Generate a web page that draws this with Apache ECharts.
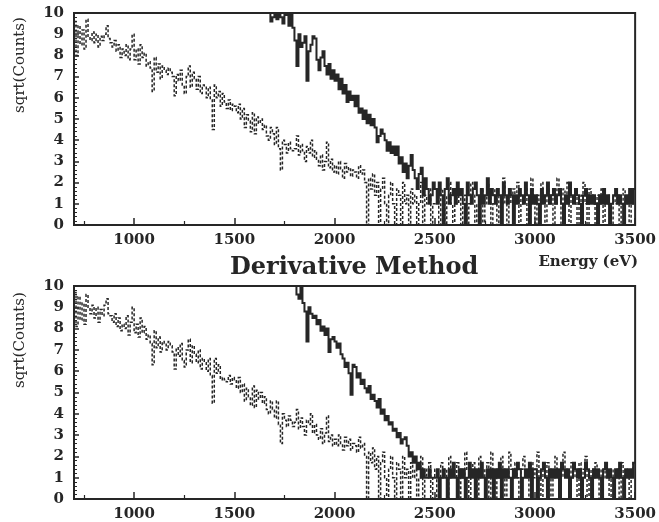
<!DOCTYPE html>
<html>
<head>
<meta charset="utf-8">
<script src="https://cdn.jsdelivr.net/npm/echarts@6/dist/echarts.min.js"></script>
<style>html,body{margin:0;padding:0;background:#fff;}#chart{width:659px;height:522px;}</style>
</head>
<body>
<div id="chart"></div>
<script>
// Energy bins: 10 eV wide, starting at 700 eV
const BIN_START = 700;
const BIN_WIDTH = 10;
const X_MIN = 700, X_MAX = 3500;
const xMajorTicks = [1000, 1500, 2000, 2500, 3000, 3500];
const xMinorTicks = [750, 1250, 1750, 2250, 2750, 3250];
const titleText = 'Derivative Method';
const xName = 'Energy (eV)';
const yName = 'sqrt(Counts)';

// top panel, dashed histogram
const topDashed = [
  9.6, 8.0, 9.4, 8.5, 9.2, 8.3, 9.7, 8.9, 8.7, 9.1,
  8.6, 9.0, 8.4, 8.9, 8.7, 9.0, 9.4, 8.8, 8.6, 8.4,
  8.7, 8.2, 8.5, 7.9, 8.3, 8.0, 8.5, 7.8, 8.3, 9.0,
  7.8, 8.3, 7.6, 8.5, 7.9, 8.1, 7.5, 7.7, 7.4, 6.3,
  7.9, 7.2, 7.6, 6.9, 7.5, 7.3, 7.1, 7.4, 7.2, 7.0,
  6.1, 7.1, 6.8, 7.3, 6.6, 6.2, 7.0, 7.5, 6.5, 7.2,
  6.9, 6.4, 7.0, 6.2, 6.6, 6.5, 6.0, 6.5, 5.9, 4.5,
  6.6, 6.0, 6.3, 5.6, 6.2, 5.8, 5.5, 5.9, 5.4, 5.7,
  5.6, 5.3, 5.7, 5.0, 5.5, 4.6, 5.2, 4.9, 4.4, 5.3,
  4.3, 5.1, 4.8, 5.0, 4.5, 4.7, 4.2, 4.0, 4.6, 4.3,
  3.8, 4.6, 3.6, 2.6, 4.0, 3.8, 3.4, 3.9, 3.6, 3.5,
  3.6, 4.2, 3.3, 3.8, 3.5, 3.0, 3.7, 3.4, 4.0, 3.2,
  3.5, 3.1, 2.8, 3.3, 2.6, 3.0, 3.9, 2.7, 3.1, 2.5,
  2.8, 2.4, 3.0, 2.6, 2.2, 2.9, 2.5, 2.7, 2.3, 2.6,
  2.5, 2.2, 2.8, 2.4, 2.6, 2.0, 0, 2.2, 1.7, 2.4,
  1.4, 2.0, 0, 1.7, 2.2, 1.0, 0, 1.4, 2.0, 1.0,
  0, 1.7, 1.4, 0, 2.0, 1.0, 1.4, 0, 1.7, 1.0,
  1.4, 0, 1.0, 2.0, 0, 1.4, 1.0, 1.7, 0, 1.0,
  1.0, 1.4, 0, 1.7, 1.0, 0, 1.4, 2.0, 1.0, 0,
  1.4, 1.0, 1.7, 0, 1.0, 1.4, 0, 1.0, 2.0, 1.4,
  0, 1.0, 1.4, 1.7, 0, 1.0, 2.0, 1.4, 0, 1.0,
  1.7, 0, 1.4, 1.0, 2.2, 1.0, 0, 1.4, 1.0, 1.7,
  1.0, 2.0, 0, 1.4, 1.0, 1.7, 0, 1.0, 2.2, 1.4,
  0, 1.4, 1.0, 2.0, 1.4, 0, 1.7, 1.0, 1.4, 0,
  1.0, 2.2, 1.4, 0, 1.7, 1.0, 2.0, 0, 1.4, 1.0,
  1.7, 0, 1.0, 1.4, 2.0, 1.0, 0, 1.7, 1.4, 1.0,
  0, 1.4, 1.0, 1.7, 0, 1.0, 1.4, 1.0, 0, 1.4,
  1.0, 1.4, 0, 1.0, 1.7, 1.0, 1.4, 0, 1.0, 1.7
];

// top panel, solid histogram (null = above the plotted range)
const topSolid = [
  null, null, null, null, null, null, null, null, null, null,
  null, null, null, null, null, null, null, null, null, null,
  null, null, null, null, null, null, null, null, null, null,
  null, null, null, null, null, null, null, null, null, null,
  null, null, null, null, null, null, null, null, null, null,
  null, null, null, null, null, null, null, null, null, null,
  null, null, null, null, null, null, null, null, null, null,
  null, null, null, null, null, null, null, null, null, null,
  null, null, null, null, null, null, null, null, null, null,
  null, null, null, null, null, null, null, 12, 9.6, 9.8,
  10.0, 9.7, 10.0, 9.8, 9.5, 10.0, 9.9, 9.4, 10.0, 9.3,
  8.7, 7.5, 9.0, 8.4, 8.6, 8.9, 6.8, 8.2, 8.5, 8.9,
  8.8, 7.8, 7.3, 7.9, 8.2, 7.5, 7.1, 7.6, 6.9, 7.3,
  6.8, 7.1, 6.4, 6.9, 6.2, 6.6, 5.8, 6.3, 5.9, 6.1,
  5.6, 6.1, 5.3, 5.5, 5.0, 5.4, 4.8, 5.2, 4.7, 5.0,
  4.6, 3.9, 4.2, 4.5, 4.3, 4.0, 3.5, 3.9, 3.4, 3.7,
  3.3, 3.7, 2.9, 3.2, 2.5, 2.9, 2.2, 2.8, 3.3, 2.6,
  2.2, 1.7, 2.4, 2.7, 1.4, 2.2, 1.7, 1.0, 1.4, 2.0,
  1.7, 1.0, 2.0, 1.4, 0, 1.7, 2.2, 1.0, 1.4, 1.7,
  1.0, 2.0, 1.4, 1.7, 1.0, 0, 2.0, 1.4, 1.0, 1.7,
  2.0, 1.4, 0, 1.7, 1.0, 1.4, 2.2, 1.0, 1.7, 1.4,
  1.0, 1.7, 1.4, 0, 2.0, 1.4, 1.0, 1.7, 1.4, 0,
  1.4, 1.0, 1.7, 1.4, 1.0, 2.0, 1.4, 0, 1.7, 1.0,
  1.4, 1.0, 0, 1.7, 1.0, 1.4, 2.0, 1.0, 1.4, 1.7,
  1.0, 1.4, 1.7, 1.0, 0, 1.4, 1.0, 2.0, 1.4, 1.0,
  1.7, 1.4, 1.0, 0, 1.4, 1.7, 1.0, 1.4, 1.0, 1.4,
  1.0, 0, 1.4, 1.0, 1.7, 1.0, 1.4, 0, 1.0, 1.4,
  1.7, 1.0, 1.4, 1.0, 0, 1.4, 1.0, 1.7, 1.0, 1.7
];

// bottom panel, dashed histogram
const bottomDashed = [
  9.7, 8.1, 9.5, 8.4, 9.2, 8.2, 9.6, 9.0, 8.7, 9.1,
  8.5, 9.0, 8.3, 8.9, 8.6, 9.1, 9.4, 8.7, 8.6, 8.3,
  8.7, 8.1, 8.5, 7.9, 8.2, 8.0, 8.6, 7.7, 8.3, 9.0,
  7.8, 8.2, 7.6, 8.5, 7.8, 8.1, 7.5, 7.7, 7.3, 6.3,
  7.9, 7.1, 7.6, 6.9, 7.4, 7.3, 7.0, 7.4, 7.2, 6.9,
  6.1, 7.1, 6.7, 7.3, 6.5, 6.2, 7.0, 7.5, 6.4, 7.2,
  6.8, 6.4, 7.0, 6.1, 6.6, 6.4, 6.0, 6.6, 5.8, 4.5,
  6.6, 5.9, 6.3, 5.6, 5.7, 5.6, 5.5, 5.8, 5.4, 5.7,
  5.6, 5.2, 5.7, 5.0, 5.4, 4.6, 5.2, 4.8, 4.4, 5.3,
  4.3, 5.1, 4.7, 5.0, 4.5, 4.8, 4.2, 4.0, 4.6, 4.2,
  3.8, 4.6, 3.5, 2.6, 4.0, 3.7, 3.4, 3.9, 3.7, 3.4,
  3.6, 4.2, 3.3, 3.8, 3.4, 3.0, 3.7, 3.5, 4.0, 3.1,
  3.5, 3.0, 2.8, 3.3, 2.6, 3.1, 3.9, 2.7, 3.0, 2.5,
  2.8, 2.5, 3.0, 2.6, 2.3, 2.9, 2.5, 2.8, 2.3, 2.6,
  2.5, 2.2, 2.9, 2.4, 2.6, 2.0, 0, 2.2, 1.7, 2.4,
  1.4, 2.0, 0, 1.7, 2.2, 1.0, 0, 1.4, 2.0, 1.0,
  0, 1.7, 1.4, 0, 2.0, 1.0, 1.4, 0, 1.7, 1.0,
  1.4, 0, 1.0, 2.0, 0, 1.4, 1.0, 1.7, 0, 1.0,
  1.4, 0, 1.0, 1.7, 1.0, 1.4, 0, 2.0, 1.0, 1.4,
  1.0, 1.7, 0, 1.4, 1.0, 2.2, 1.4, 0, 1.0, 1.7,
  1.4, 0, 2.0, 1.0, 1.4, 1.0, 1.7, 0, 2.2, 1.0,
  0, 1.4, 1.0, 2.0, 1.4, 0, 1.0, 2.2, 1.4, 1.0,
  1.7, 1.0, 0, 1.4, 2.0, 1.0, 1.4, 0, 1.7, 1.0,
  1.4, 2.2, 1.0, 0, 1.4, 1.0, 1.7, 1.4, 0, 1.0,
  2.0, 1.4, 0, 1.0, 2.2, 1.4, 1.0, 0, 1.7, 1.0,
  1.4, 0, 1.7, 1.0, 1.4, 2.0, 0, 1.0, 1.4, 1.0,
  1.7, 1.0, 0, 1.4, 1.0, 1.7, 1.0, 0, 1.4, 1.0,
  1.0, 1.4, 0, 1.7, 1.0, 1.4, 1.0, 0, 1.4, 1.7
];

// bottom panel, solid histogram (null = above the plotted range)
const bottomSolid = [
  null, null, null, null, null, null, null, null, null, null,
  null, null, null, null, null, null, null, null, null, null,
  null, null, null, null, null, null, null, null, null, null,
  null, null, null, null, null, null, null, null, null, null,
  null, null, null, null, null, null, null, null, null, null,
  null, null, null, null, null, null, null, null, null, null,
  null, null, null, null, null, null, null, null, null, null,
  null, null, null, null, null, null, null, null, null, null,
  null, null, null, null, null, null, null, null, null, null,
  null, null, null, null, null, null, null, null, null, null,
  null, null, null, null, null, null, null, null, null, null,
  12, 9.6, 9.4, 10.0, 9.2, 8.8, 7.4, 9.0, 8.7, 8.5,
  8.6, 8.2, 8.4, 7.9, 8.1, 7.7, 8.0, 6.9, 7.5, 7.6,
  7.4, 7.1, 7.3, 6.8, 6.6, 6.2, 6.4, 5.9, 4.9, 6.3,
  6.2, 5.7, 5.9, 5.4, 5.6, 5.2, 5.0, 5.3, 4.7, 4.9,
  4.6, 4.3, 4.7, 4.0, 4.2, 3.7, 3.9, 3.5, 3.6, 3.2,
  3.3, 2.9, 3.1, 2.6, 2.8, 2.9, 2.5, 2.0, 2.2, 1.7,
  2.0, 1.4, 1.7, 1.0, 1.4, 1.0, 1.0, 1.4, 1.0, 1.0,
  1.0, 1.4, 0, 1.0, 1.4, 1.0, 0, 1.4, 1.0, 1.7,
  1.0, 0, 1.4, 1.0, 1.4, 0, 1.0, 1.7, 1.0, 1.4,
  0, 1.4, 1.0, 1.7, 1.0, 0, 1.4, 1.0, 1.4, 0,
  1.4, 1.0, 1.7, 0, 1.4, 1.0, 1.4, 1.0, 0, 1.4,
  1.0, 1.7, 1.4, 0, 1.0, 1.4, 1.0, 1.7, 0, 1.4,
  1.4, 0, 1.0, 1.4, 1.7, 1.0, 0, 1.4, 1.0, 1.4,
  1.0, 1.4, 0, 1.7, 1.4, 1.0, 1.4, 0, 1.0, 1.7,
  1.4, 1.0, 1.4, 0, 1.0, 1.7, 1.4, 1.0, 0, 1.4,
  1.0, 1.4, 1.0, 0, 1.4, 1.7, 1.0, 1.4, 1.0, 0,
  1.4, 1.0, 1.7, 1.0, 0, 1.4, 1.0, 1.4, 1.0, 1.7
];

function toSteps(values) {
  const pts = values.map((v, i) => [BIN_START + i * BIN_WIDTH, v]);
  pts.push([X_MAX, values[values.length - 1]]);
  return pts;
}

const INK = '#262626';
const SERIF = 'DejaVu Serif';
const plainNumber = (v) => String(Math.round(v));

function xAxes(gridIndex) {
  return [
    {
      type: 'value', gridIndex: gridIndex, min: X_MIN, max: X_MAX,
      axisLine: { show: false },
      splitLine: { show: false },
      axisTick: { show: true, inside: true, length: 7, lineStyle: { color: INK, width: 1.5 }, customValues: xMajorTicks },
      axisLabel: { color: INK, fontFamily: SERIF, fontWeight: 'bold', fontSize: 15, margin: 8, customValues: xMajorTicks, formatter: plainNumber }
    },
    {
      type: 'value', gridIndex: gridIndex, min: X_MIN, max: X_MAX, position: 'bottom',
      axisLine: { show: false },
      splitLine: { show: false },
      axisTick: { show: true, inside: true, length: 4, lineStyle: { color: INK, width: 1.2 }, customValues: xMinorTicks },
      axisLabel: { show: false }
    }
  ];
}

function yAxis(gridIndex) {
  return {
    type: 'value', gridIndex: gridIndex, min: 0, max: 10, interval: 1,
    axisLine: { show: false },
    splitLine: { show: false },
    axisTick: { show: true, inside: true, length: 5, lineStyle: { color: INK, width: 1.5 } },
    minorTick: { show: true, splitNumber: 5, length: 3, lineStyle: { color: INK, width: 1 } },
    minorSplitLine: { show: false },
    axisLabel: { color: INK, fontFamily: SERIF, fontWeight: 'bold', fontSize: 15, margin: 10, formatter: plainNumber }
  };
}

function seriesFor(values, gridIndex, dashed) {
  return {
    type: 'line', xAxisIndex: gridIndex * 2, yAxisIndex: gridIndex,
    data: toSteps(values), step: 'end', smooth: false, showSymbol: false, symbol: 'none',
    connectNulls: false, clip: true, silent: true,
    lineStyle: dashed ? { color: INK, width: 1.5, type: [3, 2], join: 'miter', cap: 'butt' } : { color: INK, width: 2, join: 'miter', cap: 'butt' }
  };
}

const chart = echarts.init(document.getElementById('chart'), null, { renderer: 'canvas' });
chart.setOption({
  animation: false,
  backgroundColor: '#fff',
  grid: [
    { left: 74, right: 20, top: 13, height: 212, show: true, borderColor: INK, borderWidth: 2, backgroundColor: 'transparent' },
    { left: 74, right: 20, top: 286, height: 213, show: true, borderColor: INK, borderWidth: 2, backgroundColor: 'transparent' }
  ],
  xAxis: xAxes(0).concat(xAxes(1)),
  yAxis: [yAxis(0), yAxis(1)],
  series: [
    seriesFor(topDashed, 0, true),
    seriesFor(topSolid, 0, false),
    seriesFor(bottomDashed, 1, true),
    seriesFor(bottomSolid, 1, false)
  ],
  graphic: [
    { type: 'text', left: 230, top: 256, style: { text: titleText, font: 'bold 24px "DejaVu Serif"', fill: INK } },
    { type: 'text', right: 21, top: 255, style: { text: xName, font: 'bold 15px "DejaVu Serif"', fill: INK } },
    { type: 'text', x: 20, y: 65, rotation: Math.PI / 2, style: { text: yName, font: '15px "DejaVu Serif"', fill: INK, align: 'center', verticalAlign: 'middle' } },
    { type: 'text', x: 20, y: 340, rotation: Math.PI / 2, style: { text: yName, font: '15px "DejaVu Serif"', fill: INK, align: 'center', verticalAlign: 'middle' } }
  ]
});
</script>
</body>
</html>
